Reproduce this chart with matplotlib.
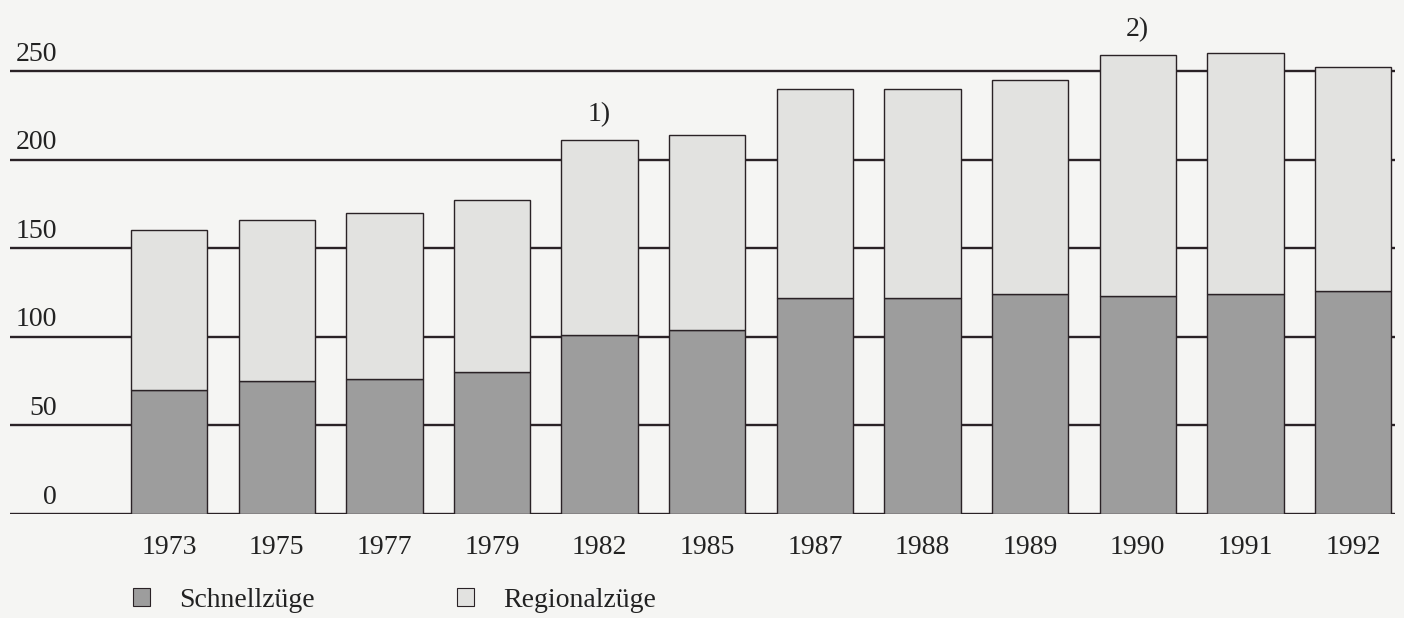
"""Stacked bar chart: Schnellzüge / Regionalzüge 1973-1992 (scan recreation)."""

import matplotlib

matplotlib.use("Agg")
import matplotlib.pyplot as plt
import matplotlib.transforms as mtransforms
import numpy as np
from matplotlib.patches import Patch

plt.rcParams.update({
    "font.family": ["Liberation Serif", "DejaVu Serif"],
    "font.size": 20,
})

years = ["1973", "1975", "1977", "1979", "1982", "1985",
         "1987", "1988", "1989", "1990", "1991", "1992"]
schnellzuege = [70, 75, 76, 80, 101, 104, 122, 122, 124, 123, 124, 126]
regionalzuege = [90, 91, 94, 97, 110, 110, 118, 118, 121, 136, 136, 126]
yticks = [0, 50, 100, 150, 200, 250]
footnotes = {"1982": "1)", "1990": "2)"}

PAPER = "#f5f5f3"
DARK = "#9d9d9d"
LIGHT = "#e2e2e0"
INK = "#2a2226"

fig = plt.figure(figsize=(14.04, 6.18), dpi=100, facecolor=PAPER)
ax = fig.add_axes([10 / 1404, 104 / 618, 1385 / 1404, 505 / 618])
ax.set_facecolor(PAPER)

x = np.arange(len(years))
schnell = np.array(schnellzuege)
regional = np.array(regionalzuege)

ax.bar(x, schnell, width=0.71, color=DARK, edgecolor=INK, linewidth=1.0, zorder=2)
ax.bar(x, regional, bottom=schnell, width=0.71, color=LIGHT,
       edgecolor=INK, linewidth=1.0, zorder=2)

for v in yticks:
    ax.axhline(v, color=INK, linewidth=1.7, zorder=1)

ax.set_xlim(-1.478, 11.39)
ax.set_ylim(0, 285)
for spine in ax.spines.values():
    spine.set_visible(False)

ax.set_yticks([])
ax.set_xticks(x)
ax.set_xticklabels(years)
ax.tick_params(axis="x", length=0, pad=15, colors="#222222")

# y labels sit above their gridlines, right-aligned near the left edge
blend = mtransforms.blended_transform_factory(ax.transAxes, ax.transData)
for v in yticks:
    ax.annotate(str(v), xy=(0.034, v), xycoords=blend, xytext=(0, 7.5),
                textcoords="offset points", ha="right", va="baseline",
                color="#222222")

totals = schnell + regional
for i, year in enumerate(years):
    if year in footnotes:
        ax.annotate(footnotes[year], xy=(i, totals[i]), xytext=(0, 14),
                    textcoords="offset points", ha="center", va="baseline",
                    color="#222222")

handles = [
    Patch(facecolor=DARK, edgecolor=INK, linewidth=0.8, label="Schnellzüge"),
    Patch(facecolor=LIGHT, edgecolor=INK, linewidth=0.8, label="Regionalzüge"),
]
fig.legend(handles=handles, loc="lower left", bbox_to_anchor=(108 / 1404, -0.032),
           ncol=2, frameon=False, handlelength=0.62, handleheight=0.65,
           handletextpad=1.05, columnspacing=5.12, labelcolor="#222222")

fig.savefig("out.png", dpi=100, facecolor=PAPER)
